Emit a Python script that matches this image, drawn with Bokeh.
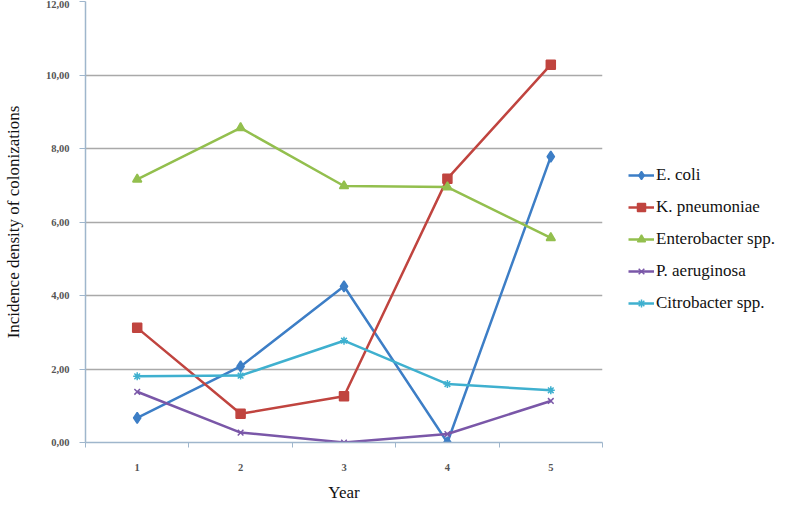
from bokeh.plotting import figure
from bokeh.models import FixedTicker, Legend, Range1d
from bokeh.embed import file_html
from bokeh.resources import INLINE

years = [1, 2, 3, 4, 5]
year_labels = ["1", "2", "3", "4", "5"]
e_coli = [0.67, 2.07, 4.25, 0.0, 7.78]
k_pneumoniae = [3.12, 0.78, 1.26, 7.18, 10.28]
enterobacter = [7.16, 8.56, 6.98, 6.95, 5.57]
p_aeruginosa = [1.38, 0.27, 0.0, 0.23, 1.13]
citrobacter = [1.80, 1.82, 2.77, 1.59, 1.42]
y_ticks = [0, 2, 4, 6, 8, 10, 12]
y_tick_labels = ["0,00", "2,00", "4,00", "6,00", "8,00", "10,00", "12,00"]

series = [
    ("E. coli", e_coli, "#3d7ec6", "diamond", 11),
    ("K. pneumoniae", k_pneumoniae, "#c0443f", "square", 9),
    ("Enterobacter spp.", enterobacter, "#93bf4e", "triangle", 9),
    ("P. aeruginosa", p_aeruginosa, "#7a57a8", "x", 8),
    ("Citrobacter spp.", citrobacter, "#3fb0cf", "asterisk", 8),
]

p = figure(frame_width=517, frame_height=441, output_backend="svg", toolbar_location=None,
           x_range=Range1d(0.5, 5.5), y_range=Range1d(0, 12),
           min_border_left=81, min_border_right=0, min_border_top=1,
           min_border_bottom=51)
p.outline_line_color = None
p.background_fill_color = "white"
p.border_fill_color = "white"

p.xgrid.grid_line_color = None
p.ygrid.grid_line_color = "#a9a9a9"
p.ygrid.grid_line_width = 1.5
p.ygrid.ticker = FixedTicker(ticks=y_ticks)

# y axis
p.yaxis.ticker = FixedTicker(ticks=y_ticks)
p.yaxis.major_label_overrides = {t: l for t, l in zip(y_ticks, y_tick_labels)}
p.yaxis.axis_line_color = "#9fb6cc"
p.yaxis.axis_line_width = 1.5
p.yaxis.major_tick_line_color = "#9fb6cc"
p.yaxis.major_tick_out = 6
p.yaxis.major_tick_in = 0
p.yaxis.minor_tick_line_color = None
p.yaxis.major_label_text_font = "Liberation Serif"
p.yaxis.major_label_text_font_style = "bold"
p.yaxis.major_label_text_font_size = "10.5px"
p.yaxis.major_label_text_color = "#555555"
p.yaxis.major_label_standoff = 10
p.yaxis.axis_label = "Incidence density of colonizations"
p.yaxis.axis_label_text_font = "Liberation Serif"
p.yaxis.axis_label_text_font_style = "normal"
p.yaxis.axis_label_text_font_size = "17px"
p.yaxis.axis_label_text_color = "#111111"
p.yaxis.axis_label_standoff = 20

# x axis
p.xaxis.ticker = FixedTicker(ticks=years, minor_ticks=[0.5, 1.5, 2.5, 3.5, 4.5, 5.5])
p.xaxis.major_label_overrides = {t: l for t, l in zip(years, year_labels)}
p.xaxis.axis_line_color = "#9fb6cc"
p.xaxis.axis_line_width = 1.5
p.xaxis.major_tick_line_color = None
p.xaxis.minor_tick_line_color = "#9fb6cc"
p.xaxis.minor_tick_out = 5
p.xaxis.minor_tick_in = 0
p.xaxis.major_label_text_font = "Liberation Serif"
p.xaxis.major_label_text_font_style = "bold"
p.xaxis.major_label_text_font_size = "10.5px"
p.xaxis.major_label_text_color = "#555555"
p.xaxis.major_label_standoff = 15
p.xaxis.axis_label = "Year"
p.xaxis.axis_label_text_font = "Liberation Serif"
p.xaxis.axis_label_text_font_style = "normal"
p.xaxis.axis_label_text_font_size = "17px"
p.xaxis.axis_label_text_color = "#111111"
p.xaxis.axis_label_standoff = 9

items = []
for name, vals, color, marker, size in series:
    r1 = p.line(years, vals, line_color=color, line_width=2.5)
    r2 = p.scatter(years, vals, marker=marker, size=size, fill_color=color,
                   line_color=color, line_width=1.5)
    items.append((name, [r1, r2]))

legend = Legend(items=items, location=(26, 129),
                label_text_font="Times New Roman",
                label_text_font_style="normal",
                label_text_font_size="17px",
                label_text_color="#111111")
legend.border_line_color = None
legend.background_fill_alpha = 0
legend.glyph_width = 26
legend.glyph_height = 20
legend.label_height = 20
legend.label_standoff = 2
legend.spacing = 12
legend.margin = 0
legend.padding = 11
p.add_layout(legend, "right")

open("out.html", "w").write(file_html(p, INLINE))
